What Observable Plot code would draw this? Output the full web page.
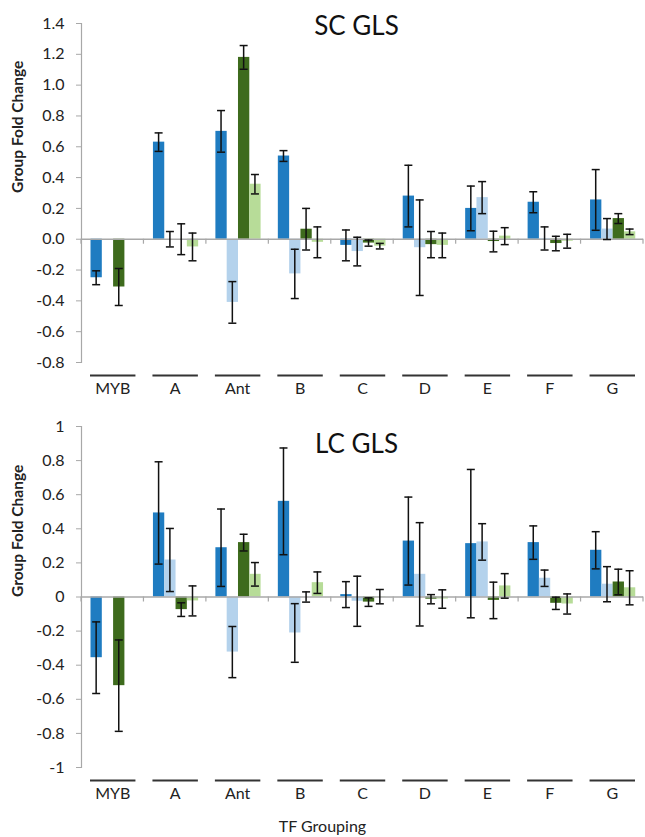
<!DOCTYPE html>
<html><head><meta charset="utf-8">
<script src="https://cdn.jsdelivr.net/npm/d3@7"></script>
<script src="https://cdn.jsdelivr.net/npm/@observablehq/plot@0.6"></script>
<style>
body{margin:0;background:#fff;font-family:Lato, "Open Sans", sans-serif;}
#chart svg{display:block;}
#xlabel{width:645px;text-align:center;font-size:16px;height:27px;line-height:32px;color:#222;font-family:Lato, sans-serif;}
</style></head><body>
<div id="chart"></div>
<div id="xlabel">TF Grouping</div>
<script>
const categories = ["MYB","A","Ant","B","C","D","E","F","G"];
const seriesNames = ["Series 1","Series 2","Series 3","Series 4"];
const seriesColors = ["#1f7cc1","#b4d2ec","#3e6b1d","#b7dc98"];
const yLabel = "Group Fold Change";
const xLabel = "TF Grouping";

// SC GLS
const scTitle = "SC GLS";
const scS1 = [-0.25, 0.63, 0.70, 0.54, -0.04, 0.28, 0.20, 0.24, 0.255];
const scS1Err = [0.045, 0.06, 0.135, 0.035, 0.10, 0.20, 0.145, 0.068, 0.197];
const scS2 = [null, 0.0, -0.41, -0.225, -0.08, -0.055, 0.27, 0.005, 0.066];
const scS2Err = [null, 0.05, 0.135, 0.16, 0.093, 0.31, 0.104, 0.075, 0.068];
const scS3 = [-0.31, 0.0, 1.18, 0.065, -0.025, -0.035, -0.015, -0.028, 0.134];
const scS3Err = [0.12, 0.1, 0.077, 0.135, 0.02, 0.085, 0.067, 0.047, 0.032];
const scS4 = [null, -0.05, 0.357, -0.02, -0.045, -0.04, 0.02, -0.013, 0.048];
const scS4Err = [null, 0.09, 0.063, 0.1, 0.018, 0.08, 0.055, 0.045, 0.018];
const scTicks = [-0.8,-0.6,-0.4,-0.2,0,0.2,0.4,0.6,0.8,1.0,1.2,1.4];

// LC GLS
const lcTitle = "LC GLS";
const lcS1 = [-0.356, 0.493, 0.289, 0.561, 0.014, 0.328, 0.313, 0.319, 0.274];
const lcS1Err = [0.21, 0.30, 0.227, 0.313, 0.076, 0.258, 0.435, 0.098, 0.109];
const lcS2 = [null, 0.217, -0.323, -0.211, -0.025, 0.133, 0.323, 0.11, 0.075];
const lcS2Err = [null, 0.185, 0.15, 0.172, 0.147, 0.303, 0.107, 0.048, 0.103];
const lcS3 = [-0.52, -0.074, 0.319, 0.0, -0.03, -0.013, -0.02, -0.037, 0.088];
const lcS3Err = [0.268, 0.04, 0.049, 0.03, 0.025, 0.027, 0.107, 0.036, 0.075];
const lcS4 = [null, -0.023, 0.133, 0.084, 0.002, -0.012, 0.065, -0.041, 0.054];
const lcS4Err = [null, 0.088, 0.069, 0.063, 0.042, 0.054, 0.072, 0.059, 0.1];
const lcTicks = [-1,-0.8,-0.6,-0.4,-0.2,0,0.2,0.4,0.6,0.8,1];

function rowsOf(vals, errs) {
  const rows = [];
  vals.forEach((v, k) => categories.forEach((c, i) => {
    if (v[i] != null) rows.push({cat: c, k, value: v[i], err: errs[k][i]});
  }));
  return rows;
}

const W = 645, ML = 81, MR = 2;
const step = (W - ML - MR) / categories.length;
const barW = 11.3, padL = 9.5;

function panel({title, vals, errs, ticks, domain, fmt, height, marginTop, marginBottom, titleDy}) {
  const rows = rowsOf(vals, errs);
  const marks = [];
  seriesNames.forEach((s, k) => {
    const inL = padL + k * barW;
    const inR = step - padL - (k + 1) * barW;
    marks.push(Plot.barY(rows.filter(d => d.k === k), {
      x: "cat", y1: 0, y2: "value", fill: seriesColors[k], insetLeft: inL, insetRight: inR
    }));
  });
  // zero line
  marks.push(Plot.ruleY([0], {stroke: "#a8a8a8", strokeWidth: 1.5}));
  // boundary ticks on zero line
  marks.push(Plot.barY(categories, {x: d => d, y1: () => 0, y2: () => 0, insetTop: 0, insetBottom: -5,
    insetLeft: -0.6, insetRight: step - 0.6, fill: "#a8a8a8"}));
  marks.push(Plot.barY([categories[categories.length - 1]], {x: d => d, y1: () => 0, y2: () => 0, insetTop: 0, insetBottom: -5,
    insetLeft: step - 0.6, insetRight: -0.6, fill: "#a8a8a8"}));
  // error bars
  seriesNames.forEach((s, k) => {
    const c = padL + (k + 0.5) * barW;
    const data = rows.filter(d => d.k === k);
    marks.push(Plot.barY(data, {x: "cat", y1: d => d.value - d.err, y2: d => d.value + d.err,
      fill: "#111", insetLeft: c - 0.75, insetRight: step - c - 0.75}));
    marks.push(Plot.tickY(data, {x: "cat", y: d => d.value + d.err, stroke: "#111", strokeWidth: 1.5,
      insetLeft: c - 4, insetRight: step - c - 4}));
    marks.push(Plot.tickY(data, {x: "cat", y: d => d.value - d.err, stroke: "#111", strokeWidth: 1.5,
      insetLeft: c - 4, insetRight: step - c - 4}));
  });
  // y axis line
  marks.push(Plot.frame({anchor: "left", stroke: "#a8a8a8", strokeWidth: 1.2}));
  marks.push(Plot.axisY({ticks, tickFormat: fmt, tickSize: 5, tickPadding: 12, fontSize: 16,
    stroke: "#a8a8a8", fill: "#222", label: null}));
  // category lines under the axis
  marks.push(Plot.tickY(categories, {x: d => d, y: () => domain[0], dy: 13, insetLeft: 9, insetRight: 8,
    stroke: "#333", strokeWidth: 2}));
  marks.push(Plot.axisX({tickSize: 0, tickPadding: 20, fontSize: 16, fill: "#222", label: null}));
  // y label
  marks.push(Plot.text([yLabel], {text: d => d, frameAnchor: "left", rotate: -90, dx: -63,
    fontWeight: "bold", fontSize: 15.5, fill: "#222"}));
  // title
  marks.push(Plot.text([title], {text: d => d, frameAnchor: "top", dx: -6, dy: titleDy,
    lineAnchor: "middle", fontSize: 26, fill: "#111"}));
  return Plot.plot({
    width: W, height, marginLeft: ML, marginRight: MR, marginTop, marginBottom,
    style: {fontFamily: "Lato, sans-serif", background: "#fff"},
    x: {type: "band", domain: categories, padding: 0, round: false},
    y: {domain, round: false},
    marks
  });
}

const top1 = panel({title: scTitle, vals: [scS1, scS2, scS3, scS4], errs: [scS1Err, scS2Err, scS3Err, scS4Err],
  ticks: scTicks, domain: [-0.8, 1.4], fmt: d => d.toFixed(1), height: 400, marginTop: 23, marginBottom: 38, titleDy: 3});
const bot1 = panel({title: lcTitle, vals: [lcS1, lcS2, lcS3, lcS4], errs: [lcS1Err, lcS2Err, lcS3Err, lcS4Err],
  ticks: lcTicks, domain: [-1, 1], fmt: d => String(+d.toFixed(1)), height: 410, marginTop: 26, marginBottom: 43, titleDy: 18});
document.getElementById("chart").append(top1, bot1);
document.getElementById("xlabel").textContent = xLabel;
</script>
</body></html>
